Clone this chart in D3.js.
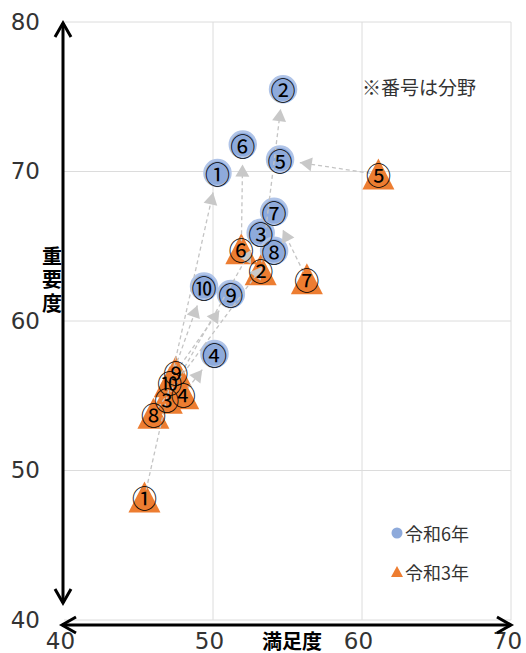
<!DOCTYPE html>
<html>
<head>
<meta charset="utf-8">
<script src="https://cdn.jsdelivr.net/npm/d3@7"></script>
<style>
  body { margin: 0; background: #fff; }
  svg { display: block; }
</style>
</head>
<body>
<div id="chart"></div>
<script>
// field numbers and their (satisfaction, importance) values
var nums = ["①", "②", "③", "④", "⑤", "⑥", "⑦", "⑧", "⑨", "⑩"];
var sat6 = [50.3, 54.7, 53.2, 50.1, 54.5, 52.0, 54.1, 54.1, 51.2, 49.4];
var imp6 = [69.9, 75.5, 65.9, 57.8, 70.8, 71.8, 67.3, 64.7, 61.8, 62.3];
var sat3 = [45.4, 53.2, 46.9, 48.0, 61.1, 51.9, 56.3, 46.0, 47.5, 47.1];
var imp3 = [48.2, 63.4, 54.8, 55.1, 69.8, 64.8, 62.8, 53.8, 56.6, 55.9];
var xTicks = [40, 50, 60, 70];
var yTicks = [40, 50, 60, 70, 80];

var width = 526;
var height = 653;

var data = nums.map(function (n, i) {
   return {n: n, x6: sat6[i], y6: imp6[i], x3: sat3[i], y3: imp3[i]};
});

var svg = d3.select("#chart").
append("svg").
attr("width", width).
attr("height", height);

var x = d3.scaleLinear().domain([40, 70]).range([64, 511]);
var y = d3.scaleLinear().domain([40, 80]).range([620, 22]);

var defs = svg.append("defs");
defs.append("marker").
attr("id", "open").
attr("markerUnits", "userSpaceOnUse").
attr("viewBox", "-16 -10 20 20").
attr("markerWidth", 20).
attr("markerHeight", 20).
attr("refX", 0).
attr("refY", 0).
attr("orient", "auto-start-reverse").
append("path").
attr("d", "M-14,-8 L0,0 L-14,8").
attr("fill", "none").
attr("stroke", "#000").
attr("stroke-width", 3);

defs.append("marker").
attr("id", "grey").
attr("markerUnits", "userSpaceOnUse").
attr("viewBox", "-14 -8 16 16").
attr("markerWidth", 16).
attr("markerHeight", 16).
attr("refX", 0).
attr("refY", 0).
attr("orient", "auto").
append("path").
attr("d", "M-12,-7 L0,0 L-12,7 Z").
attr("fill", "#c8c8c8");

// gridlines
svg.selectAll(".vgrid").
data(xTicks.slice(1)).
enter().
append("line").
attr("x1", function (d) {return x(d);}).
attr("x2", function (d) {return x(d);}).
attr("y1", y(80)).
attr("y2", y(40)).
attr("stroke", "#dcdcdc");

svg.selectAll(".hgrid").
data(yTicks).
enter().
append("line").
attr("x1", x(40)).
attr("x2", x(70)).
attr("y1", function (d) {return y(d);}).
attr("y2", function (d) {return y(d);}).
attr("stroke", "#dcdcdc");

// tick labels
var xAxis = svg.append("g").
attr("transform", "translate(-4," + y(40) + ")").
call(d3.axisBottom(x).tickValues(xTicks).tickSize(0).tickPadding(13).tickFormat(d3.format("d")));
var yAxis = svg.append("g").
attr("transform", "translate(" + (x(40) - 24) + ",0)").
call(d3.axisLeft(y).tickValues(yTicks).tickSize(0).tickPadding(0).tickFormat(d3.format("d")));
[xAxis, yAxis].forEach(function (a) {
   a.select(".domain").remove();
   a.selectAll("text").
   style("font-family", "DejaVu Sans").
   style("font-size", "23px").
   attr("fill", "#333");
});

// circles (令和6年)
svg.selectAll(".c6").
data(data).
enter().
append("circle").
attr("cx", function (d) {return x(d.x6);}).
attr("cy", function (d) {return y(d.y6);}).
attr("r", 13).
attr("fill", "#8eaadb").
attr("stroke", "#b0c4e8").
attr("stroke-width", 2.5);

// triangles (令和3年)
svg.selectAll(".t3").
data(data).
enter().
append("path").
attr("d", "M0,-16 L16,15 L-16,15 Z").
attr("transform", function (d) {return "translate(" + x(d.x3) + "," + y(d.y3) + ")";}).
attr("fill", "#ed7d31");

// dashed arrows from 令和3年 to 令和6年
svg.selectAll(".arrow").
data(data).
enter().
append("line").
each(function (d) {
   var x0 = x(d.x3), y0 = y(d.y3), x1 = x(d.x6), y1 = y(d.y6);
   var dx = x1 - x0, dy = y1 - y0, len = Math.sqrt(dx * dx + dy * dy);
   var ux = dx / len, uy = dy / len;
   d3.select(this).
   attr("x1", x0 + ux * 8).
   attr("y1", y0 + uy * 8).
   attr("x2", x1 - ux * 20).
   attr("y2", y1 - uy * 20);
}).
attr("stroke", "#c4c4c4").
attr("stroke-width", 1.3).
attr("stroke-dasharray", "4,3").
attr("marker-end", "url(#grey)");

// number labels
svg.selectAll(".l3").
data(data).
enter().
append("text").
attr("x", function (d) {return x(d.x3);}).
attr("y", function (d) {return y(d.y3);}).
attr("text-anchor", "middle").
attr("dominant-baseline", "central").
style("font-family", "Noto Sans CJK JP").
style("font-size", "25px").
text(function (d) {return d.n;});

svg.selectAll(".l6").
data(data).
enter().
append("text").
attr("x", function (d) {return x(d.x6);}).
attr("y", function (d) {return y(d.y6);}).
attr("text-anchor", "middle").
attr("dominant-baseline", "central").
style("font-family", "Noto Sans CJK JP").
style("font-size", "25px").
text(function (d) {return d.n;});

// axis arrows
svg.append("line").
attr("x1", 63).attr("y1", 603).
attr("x2", 63).attr("y2", 23).
attr("stroke", "#000").
attr("stroke-width", 3).
attr("marker-start", "url(#open)").
attr("marker-end", "url(#open)");

svg.append("line").
attr("x1", 62).attr("y1", 625).
attr("x2", 511).attr("y2", 625).
attr("stroke", "#000").
attr("stroke-width", 3).
attr("marker-start", "url(#open)").
attr("marker-end", "url(#open)");

// axis titles
svg.append("text").
attr("x", 292).
attr("y", 640).
attr("text-anchor", "middle").
attr("dominant-baseline", "central").
style("font-family", "Noto Sans CJK JP").
style("font-weight", "bold").
style("font-size", "20px").
text("満足度");

svg.selectAll(".ytitle").
data(["重", "要", "度"]).
enter().
append("text").
attr("x", 52).
attr("y", function (d, i) {return 255 + i * 23.5;}).
attr("text-anchor", "middle").
attr("dominant-baseline", "central").
style("font-family", "Noto Sans CJK JP").
style("font-weight", "bold").
style("font-size", "20px").
text(function (d) {return d;});

// note
svg.append("text").
attr("x", 362).
attr("y", 86).
attr("dominant-baseline", "central").
style("font-family", "Noto Sans CJK JP").
style("font-size", "19px").
attr("fill", "#333").
text("※番号は分野");

// legend
var legend = svg.append("g");
legend.append("circle").
attr("cx", 397).attr("cy", 533).attr("r", 5.5).
attr("fill", "#8eaadb");
legend.append("path").
attr("d", "M0,-6 L6,5 L-6,5 Z").
attr("transform", "translate(397,572)").
attr("fill", "#ed7d31");
legend.selectAll("text").
data(["令和6年", "令和3年"]).
enter().
append("text").
attr("x", 405).
attr("y", function (d, i) {return 533 + i * 39;}).
attr("dominant-baseline", "central").
style("font-family", "Noto Sans CJK JP").
style("font-size", "18px").
attr("fill", "#333").
text(function (d) {return d;});
</script>
</body>
</html>
